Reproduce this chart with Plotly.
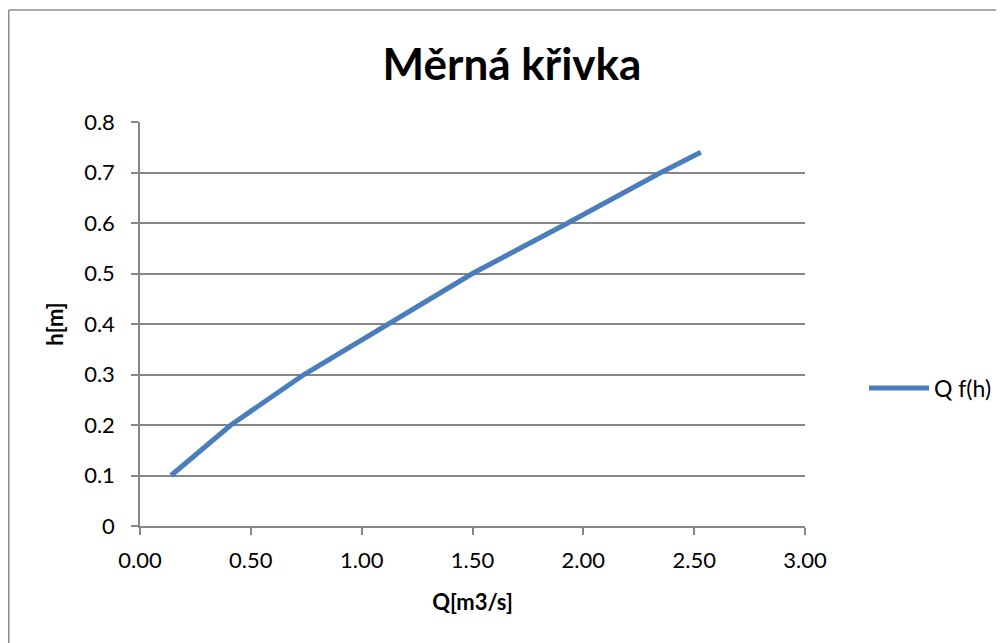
import plotly.graph_objects as go

# rating curve of the intake structure: discharge Q [m3/s] vs water depth h [m]
h_values = [0.10, 0.20, 0.30, 0.40, 0.50, 0.60, 0.70, 0.74]
q_values = [0.14, 0.41, 0.74, 1.12, 1.50, 1.93, 2.35, 2.53]
x_ticks = [0.0, 0.5, 1.0, 1.5, 2.0, 2.5, 3.0]
x_tick_labels = ["0.00", "0.50", "1.00", "1.50", "2.00", "2.50", "3.00"]
y_ticks = [0, 0.1, 0.2, 0.3, 0.4, 0.5, 0.6, 0.7, 0.8]
y_tick_labels = ["0", "0.1", "0.2", "0.3", "0.4", "0.5", "0.6", "0.7", "0.8"]

FONT = "Lato, 'Open Sans', sans-serif"
GRID = "#868686"

# figure size trimmed by the 8px body margin so the page does not scroll
FW, FH = 996, 635
# plot area in figure pixels
L, T, W, H = 132, 114, 665, 404

fig = go.Figure(go.Scatter(
    x=q_values, y=h_values, mode="lines", name="Q f(h)",
    line=dict(color="#4a7ebb", width=5),
))

fig.update_layout(
    width=FW, height=FH,
    margin=dict(l=L, r=FW - L - W, t=T, b=FH - T - H, autoexpand=False),
    paper_bgcolor="white", plot_bgcolor="white",
    font=dict(family=FONT, size=22, color="black"),
    title=dict(text="<b>Měrná křivka</b>", x=504 / FW, xanchor="center",
               y=1 - 57 / FH, yanchor="middle", font=dict(size=44, family=FONT)),
    showlegend=True,
    legend=dict(x=(856 - L) / W, xanchor="left", y=(T + H - 380) / H, yanchor="middle",
                font=dict(size=23), bgcolor="rgba(0,0,0,0)", itemwidth=60),
)

fig.update_xaxes(
    range=[0, 3], tickvals=x_ticks, ticktext=x_tick_labels,
    showgrid=False, zeroline=False, showline=True, linecolor=GRID, linewidth=1.5,
    ticks="outside", ticklen=7, tickcolor=GRID, tickwidth=1.5,
    tickfont=dict(size=22), ticklabelstandoff=7,
    title=dict(text="<b>Q[m3/s]</b>", font=dict(size=22), standoff=22),
)
fig.update_yaxes(
    range=[0, 0.8], tickvals=y_ticks, ticktext=y_tick_labels,
    showgrid=True, gridcolor=GRID, gridwidth=1.5,
    zeroline=False, showline=True, linecolor=GRID, linewidth=1.5,
    ticks="outside", ticklen=7, tickcolor=GRID, tickwidth=1.5,
    tickfont=dict(size=22), ticklabelstandoff=12,
    title=dict(text="<b>h[m]</b>", font=dict(size=22), standoff=14),
)

# chart frame: only its left and top edges fall inside the picture
frame_x0 = -(L - 0.75) / W
frame_y1 = (T + H - 2) / H
for x0, y0, x1, y1 in [(frame_x0, -0.4, frame_x0, frame_y1), (frame_x0, frame_y1, 1.5, frame_y1)]:
    fig.add_shape(type="line", xref="paper", yref="paper", x0=x0, y0=y0, x1=x1, y1=y1,
                  line=dict(color="#8c8c8c", width=1.5), layer="below")

# document caption above the chart, cut off by the top of the picture
fig.add_annotation(
    text="<b>Graf 3.:</b> <i>Měrná křivka vtokového objektu</i>",
    xref="paper", yref="paper", x=(500 - L) / W, y=(T + H + 1) / H,
    xanchor="center", yanchor="bottom", showarrow=False,
    font=dict(family="'Liberation Serif', 'Times New Roman', serif", size=22),
)

fig.write_html("out.html")
